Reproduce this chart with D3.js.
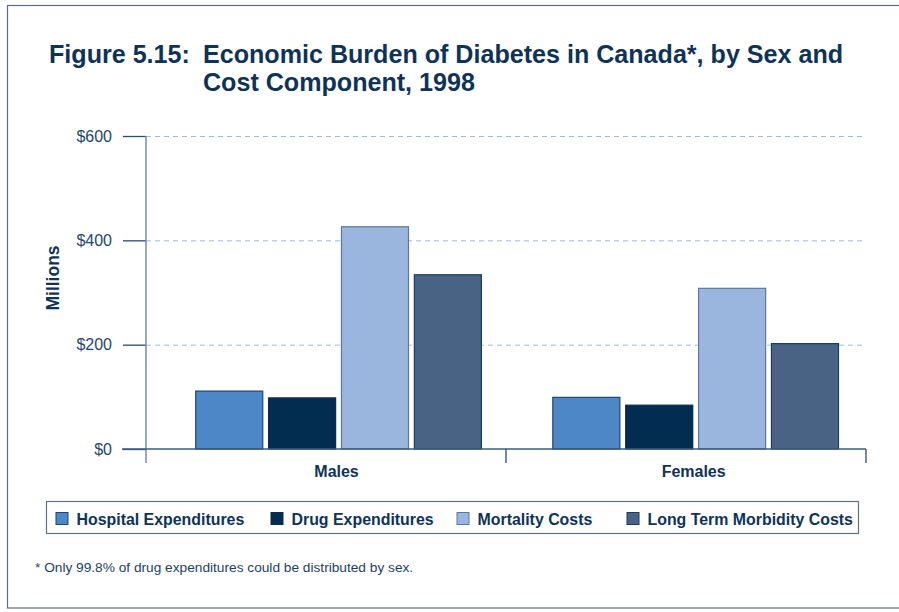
<!DOCTYPE html>
<html>
<head>
<meta charset="utf-8">
<script src="https://cdn.jsdelivr.net/npm/d3@7"></script>
<style>
  html, body { margin: 0; padding: 0; background: #fff; }
  svg { display: block; font-family: "Liberation Sans", Arial, Helvetica, sans-serif; }
</style>
</head>
<body>
<svg id="chart" width="899" height="612"></svg>
<script>
// Economic burden of diabetes, millions of dollars
const sexes = ["Males", "Females"];
const components = ["Hospital Expenditures", "Drug Expenditures", "Mortality Costs", "Long Term Morbidity Costs"];
const maleValues = [111, 98, 426, 334];
const femaleValues = [99, 84, 308, 202];
const yTicks = [0, 200, 400, 600];
const yTickLabels = ["$0", "$200", "$400", "$600"];
const colors = ["#4d87c7", "#022d50", "#9bb6de", "#486384"];
const strokes = ["#1d4670", "#0d2c4c", "#5e7899", "#1c3c5f"];

const svg = d3.select("#chart");
const ink = "#0f3358";

// page frame
svg.append("rect").attr("x", 7.5).attr("y", 5.5).attr("width", 920).attr("height", 602.5)
  .attr("fill", "none").attr("stroke", "#5c6f83").attr("stroke-width", 1.2);

// title
const title = svg.append("text").attr("fill", ink).attr("font-weight", "bold").attr("font-size", 25.1);
title.append("tspan").attr("x", 49).attr("y", 62.5).text("Figure 5.15:");
title.append("tspan").attr("x", 203).attr("y", 62.5).text("Economic Burden of Diabetes in Canada*, by Sex and");
title.append("tspan").attr("x", 203).attr("y", 91).text("Cost Component, 1998");

// scales
const y = d3.scaleLinear().domain([0, 600]).range([449, 136]);
const x0 = d3.scaleBand().domain(sexes).range([195.7, 838.5]).paddingInner(0.2);
const x1 = d3.scaleBand().domain(components).range([0, x0.bandwidth()]).paddingInner(0.08);
const axisX = d3.scaleBand().domain(sexes).range([146, 866]);

// gridlines
svg.append("g").selectAll("line").data(yTicks.filter(d => d > 0)).join("line")
  .attr("x1", 146).attr("x2", 866)
  .attr("y1", d => y(d) + 0.5).attr("y2", d => y(d) + 0.5)
  .attr("stroke", "#a3b9e0").attr("stroke-width", 1).attr("stroke-dasharray", "5,4");

// y axis
const yAxis = d3.axisLeft(y).tickValues(yTicks).tickSize(23).tickPadding(11)
  .tickFormat((d, i) => yTickLabels[i]);
const gy = svg.append("g").attr("transform", "translate(146,0)").call(yAxis);
gy.select(".domain").remove();
gy.selectAll(".tick line").attr("stroke", "#2d4b6b").attr("stroke-width", 1.3);
gy.selectAll(".tick text").attr("fill", "#23476b").attr("font-size", 16)
  .attr("font-family", "'Liberation Sans', Arial, sans-serif");
svg.append("line").attr("x1", 146).attr("x2", 146).attr("y1", 136).attr("y2", 463)
  .attr("stroke", "#7a8ea3").attr("stroke-width", 1.5);

svg.append("text").attr("transform", "translate(59,278) rotate(-90)")
  .attr("text-anchor", "middle").attr("font-weight", "bold").attr("font-size", 17.5)
  .attr("fill", ink).text("Millions");

// bars
const rows = sexes.map((s, i) => ({ sex: s, values: i === 0 ? maleValues : femaleValues }));
const groups = svg.append("g").selectAll("g").data(rows).join("g")
  .attr("transform", d => `translate(${x0(d.sex)},0)`);
groups.selectAll("rect").data(d => d.values.map((v, j) => ({ comp: components[j], v, j }))).join("rect")
  .attr("x", d => x1(d.comp)).attr("width", x1.bandwidth())
  .attr("y", d => y(d.v)).attr("height", d => y(0) - y(d.v))
  .attr("fill", d => colors[d.j]).attr("stroke", d => strokes[d.j]).attr("stroke-width", 1.2);

// x axis baseline and group separators
svg.append("line").attr("x1", 122).attr("x2", 866).attr("y1", 449).attr("y2", 449)
  .attr("stroke", "#3e5b7a").attr("stroke-width", 1.3);
svg.append("g").selectAll("line").data(sexes).join("line")
  .attr("x1", d => axisX(d) + axisX.bandwidth()).attr("x2", d => axisX(d) + axisX.bandwidth())
  .attr("y1", 449).attr("y2", 463).attr("stroke", "#2d4b6b").attr("stroke-width", 1.3);

svg.append("g").selectAll("text").data(sexes).join("text")
  .attr("x", d => x0(d) + x0.bandwidth() / 2 - 2).attr("y", 477)
  .attr("text-anchor", "middle").attr("font-weight", "bold").attr("font-size", 16)
  .attr("fill", ink).text(d => d);

// legend
svg.append("rect").attr("x", 46.5).attr("y", 501.5).attr("width", 812).attr("height", 32)
  .attr("fill", "#fff").attr("stroke", "#5f7285").attr("stroke-width", 1.2);
const legendX = [56, 271, 457, 627];
const leg = svg.append("g").selectAll("g").data(components).join("g")
  .attr("transform", (d, i) => `translate(${legendX[i]},512.5)`);
leg.append("rect").attr("width", 12).attr("height", 12)
  .attr("fill", (d, i) => colors[i]).attr("stroke", (d, i) => strokes[i]).attr("stroke-width", 1);
leg.append("text").attr("x", 20.5).attr("y", 12).attr("font-weight", "bold").attr("font-size", 15.9)
  .attr("fill", ink).text(d => d);

// footnote
svg.append("text").attr("x", 35).attr("y", 572).attr("font-size", 13.7).attr("fill", "#1d3f63")
  .text("* Only 99.8% of drug expenditures could be distributed by sex.");
</script>
</body>
</html>
